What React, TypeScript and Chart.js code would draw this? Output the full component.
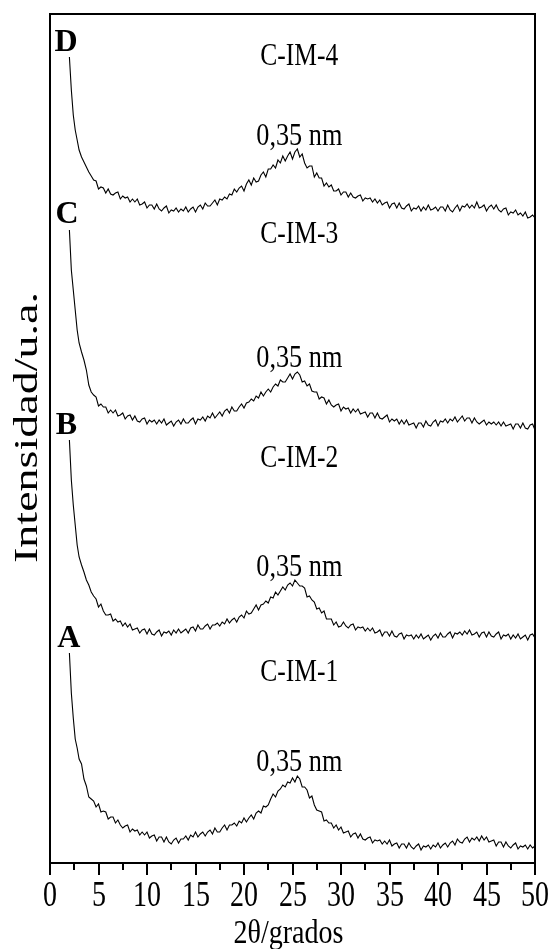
import React, { useEffect, useRef } from "react";
import { Chart, registerables } from "chart.js";

Chart.register(...registerables);

// 2θ positions (degrees)
const X: number[] = [
  2.0, 2.2, 2.4, 2.6, 2.8, 3.0, 3.25, 3.5, 3.75, 4.0, 4.25,
  4.5, 4.75,
  5.0, 5.25, 5.5, 5.75, 6.0, 6.25, 6.5, 6.75, 7.0, 7.25, 7.5, 7.75,
  8.0, 8.25, 8.5, 8.75, 9.0, 9.25, 9.5, 9.75, 10.0, 10.25, 10.5, 10.75,
  11.0, 11.25, 11.5, 11.75, 12.0, 12.25, 12.5, 12.75, 13.0, 13.25, 13.5, 13.75,
  14.0, 14.25, 14.5, 14.75, 15.0, 15.25, 15.5, 15.75, 16.0, 16.25, 16.5, 16.75,
  17.0, 17.25, 17.5, 17.75, 18.0, 18.25, 18.5, 18.75, 19.0, 19.25, 19.5, 19.75,
  20.0, 20.25, 20.5, 20.75, 21.0, 21.25, 21.5, 21.75, 22.0, 22.25, 22.5, 22.75,
  23.0, 23.25, 23.5, 23.75, 24.0, 24.25, 24.5, 24.75, 25.0, 25.25, 25.5, 25.75,
  26.0, 26.25, 26.5, 26.75, 27.0, 27.25, 27.5, 27.75, 28.0, 28.25, 28.5, 28.75,
  29.0, 29.25, 29.5, 29.75, 30.0, 30.25, 30.5, 30.75, 31.0, 31.25, 31.5, 31.75,
  32.0, 32.25, 32.5, 32.75, 33.0, 33.25, 33.5, 33.75, 34.0, 34.25, 34.5, 34.75,
  35.0, 35.25, 35.5, 35.75, 36.0, 36.25, 36.5, 36.75, 37.0, 37.25, 37.5, 37.75,
  38.0, 38.25, 38.5, 38.75, 39.0, 39.25, 39.5, 39.75, 40.0, 40.25, 40.5, 40.75,
  41.0, 41.25, 41.5, 41.75, 42.0, 42.25, 42.5, 42.75, 43.0, 43.25, 43.5, 43.75,
  44.0, 44.25, 44.5, 44.75, 45.0, 45.25, 45.5, 45.75, 46.0, 46.25, 46.5, 46.75,
  47.0, 47.25, 47.5, 47.75, 48.0, 48.25, 48.5, 48.75, 49.0, 49.25, 49.5, 49.75,
  50.0,
];

// Intensities (arbitrary units, curves stacked as in the figure)
const C_IM_1: number[] = [
  210, 170, 145, 124, 115, 104, 99, 84, 77, 66, 64,
  62, 56,
  59, 51, 52, 51, 44, 46, 46, 40, 43, 38, 35, 37,
  38, 31, 34, 32, 33, 28, 31, 28, 31, 25, 27, 28,
  22, 26, 26, 21, 26, 21, 19, 23, 25, 20, 24, 24,
  27, 23, 28, 26, 31, 26, 29, 31, 27, 31, 33, 29,
  35, 31, 31, 35, 38, 33, 38, 38, 40, 37, 42, 40,
  45, 41, 45, 48, 44, 50, 52, 50, 57, 56, 58, 64,
  69, 66, 72, 74, 78, 76, 81, 80, 85, 81, 87, 84,
  76, 76, 73, 65, 67, 58, 53, 52, 51, 42, 43, 40,
  40, 35, 38, 33, 36, 30, 31, 32, 26, 29, 30, 25,
  29, 24, 23, 25, 26, 20, 23, 22, 23, 19, 22, 19,
  23, 17, 19, 20, 15, 19, 19, 15, 20, 16, 14, 17,
  19, 13, 17, 16, 18, 14, 18, 16, 20, 15, 18, 20,
  16, 20, 22, 18, 24, 21, 20, 24, 26, 21, 25, 23,
  26, 22, 27, 23, 26, 21, 22, 23, 17, 21, 21, 16,
  21, 17, 15, 18, 20, 14, 17, 16, 18, 14, 18, 15,
  17,
];

const C_IM_2: number[] = [
  423, 383, 358, 338, 318, 306, 298, 291, 283, 278, 271,
  267, 264,
  256, 259, 252, 248, 248, 249, 242, 244, 241, 242, 237, 240,
  236, 239, 233, 234, 235, 230, 233, 234, 229, 234, 229, 228,
  231, 233, 227, 231, 230, 232, 228, 233, 230, 234, 230, 232,
  234, 230, 235, 236, 232, 238, 234, 234, 237, 239, 234, 238,
  238, 240, 237, 241, 239, 244, 240, 243, 245, 241, 246, 248,
  245, 252, 249, 250, 254, 258, 253, 258, 259, 262, 260, 266,
  265, 271, 268, 272, 276, 273, 278, 280, 277, 283, 280, 277,
  277, 275, 266, 267, 263, 261, 254, 255, 250, 252, 244, 244,
  244, 238, 241, 236, 237, 241, 237, 235, 238, 239, 233, 236,
  235, 236, 232, 235, 232, 235, 230, 231, 233, 227, 231, 231,
  227, 232, 227, 226, 229, 230, 224, 228, 227, 228, 224, 228,
  225, 229, 224, 226, 228, 223, 227, 229, 225, 230, 226, 226,
  229, 231, 225, 230, 229, 231, 228, 232, 229, 233, 228, 229,
  231, 226, 230, 231, 226, 231, 227, 226, 229, 231, 224, 228,
  227, 229, 224, 228, 225, 229, 224, 226, 228, 223, 228, 229,
  225,
];

const C_IM_3: number[] = [
  633, 593, 573, 553, 533, 520, 511, 503, 493, 478, 471,
  468, 466,
  457, 459, 456, 456, 450, 453, 450, 453, 447, 448, 450, 444,
  447, 448, 443, 447, 442, 441, 444, 445, 439, 443, 441, 443,
  439, 443, 440, 444, 438, 440, 442, 437, 441, 443, 439, 444,
  440, 440, 443, 445, 439, 444, 443, 446, 442, 447, 445, 450,
  445, 448, 451, 447, 452, 454, 450, 456, 452, 452, 456, 459,
  455, 460, 461, 464, 462, 467, 465, 471, 467, 471, 474, 471,
  476, 479, 477, 483, 481, 481, 485, 489, 484, 489, 491, 488,
  481, 482, 477, 479, 472, 471, 471, 464, 466, 465, 459, 463,
  458, 456, 458, 459, 452, 456, 454, 455, 450, 454, 451, 454,
  449, 450, 451, 446, 450, 450, 445, 450, 445, 444, 446, 448,
  441, 444, 442, 444, 439, 443, 439, 443, 438, 439, 440, 435,
  440, 440, 436, 442, 438, 437, 441, 443, 437, 442, 441, 444,
  440, 444, 442, 446, 441, 444, 447, 442, 445, 445, 440, 445,
  441, 439, 441, 443, 438, 441, 439, 441, 438, 441, 437, 441,
  437, 438, 439, 434, 439, 439, 435, 440, 435, 434, 438, 439,
  433,
];

const C_IM_4: number[] = [
  806, 773, 748, 733, 723, 713, 706, 701, 696, 691, 687,
  683, 682,
  674, 676, 675, 670, 674, 669, 668, 670, 671, 664, 667, 665,
  666, 661, 664, 661, 664, 658, 659, 661, 655, 658, 658, 654,
  659, 654, 652, 655, 657, 650, 653, 652, 655, 651, 654, 652,
  656, 651, 654, 656, 651, 656, 658, 654, 660, 657, 657, 660,
  663, 658, 664, 663, 666, 664, 669, 668, 674, 671, 675, 677,
  672, 679, 683, 678, 685, 681, 682, 688, 691, 686, 694, 694,
  698, 695, 703, 700, 707, 702, 707, 711, 704, 711, 714, 706,
  709, 700, 695, 697, 697, 686, 690, 685, 685, 677, 680, 676,
  678, 672, 672, 674, 668, 671, 671, 666, 670, 666, 665, 667,
  668, 662, 665, 664, 665, 661, 664, 660, 663, 658, 660, 661,
  655, 659, 660, 655, 660, 655, 654, 657, 659, 652, 655, 654,
  657, 652, 656, 653, 658, 653, 654, 656, 652, 656, 656, 652,
  658, 653, 651, 655, 658, 652, 657, 656, 659, 655, 658, 655,
  661, 655, 656, 658, 652, 656, 658, 654, 658, 653, 651, 654,
  655, 648, 651, 650, 653, 648, 650, 647, 651, 645, 646, 648,
  645,
];

const SERIES_NAMES: string[] = ["C-IM-1", "C-IM-2", "C-IM-3", "C-IM-4"];
const SERIES_DATA: number[][] = [C_IM_1, C_IM_2, C_IM_3, C_IM_4];

// Axis ranges and ticks
const X_MIN = 0;
const X_MAX = 50;
const Y_MAX = 849;
const X_MAJOR_TICKS: number[] = [0, 5, 10, 15, 20, 25, 30, 35, 40, 45, 50];
const X_MINOR_TICKS: number[] = [2.5, 7.5, 12.5, 17.5, 22.5, 27.5, 32.5, 37.5, 42.5, 47.5];

// Annotations (data coordinates)
const NAME_X = 25.7;
const NAME_Y: number[] = [182, 396, 620, 798];
const PEAK_TEXT = "0,35 nm";
const PEAK_Y: number[] = [92, 287, 496, 718];
const LETTERS: string[] = ["A", "B", "C", "D"];
const LETTER_X: number[] = [1.95, 1.7, 1.75, 1.65];
const LETTER_Y: number[] = [216, 429, 640, 812];

const X_TITLE = "2θ/grados";
const Y_TITLE = "Intensidad/u.a.";

const SERIF = '"Liberation Serif", "Times New Roman", serif';

function drawFitText(
  ctx: CanvasRenderingContext2D,
  text: string,
  cx: number,
  baseline: number,
  font: string,
  targetWidth: number
) {
  ctx.save();
  ctx.font = font;
  ctx.textAlign = "center";
  ctx.textBaseline = "alphabetic";
  const w = ctx.measureText(text).width || 1;
  ctx.translate(cx, baseline);
  ctx.scale(targetWidth / w, 1);
  ctx.fillText(text, 0, 0);
  ctx.restore();
}

const decorPlugin = {
  id: "decor",
  afterDraw(chart: any) {
    const ctx: CanvasRenderingContext2D = chart.ctx;
    const { left, right, top, bottom } = chart.chartArea;
    const xs = chart.scales.x;
    const ys = chart.scales.y;
    ctx.save();
    ctx.strokeStyle = "#000";
    ctx.fillStyle = "#000";
    ctx.lineWidth = 2;
    ctx.strokeRect(left, top, right - left, bottom - top);

    // x ticks and labels
    X_MAJOR_TICKS.forEach((v) => {
      const px = Math.round(xs.getPixelForValue(v));
      ctx.beginPath();
      ctx.moveTo(px, bottom);
      ctx.lineTo(px, bottom + 12);
      ctx.stroke();
      const s = String(v);
      drawFitText(ctx, s, px, bottom + 43, `35px ${SERIF}`, 14 * s.length);
    });
    X_MINOR_TICKS.forEach((v) => {
      const px = Math.round(xs.getPixelForValue(v));
      ctx.beginPath();
      ctx.moveTo(px, bottom);
      ctx.lineTo(px, bottom + 7);
      ctx.stroke();
    });

    // axis titles
    drawFitText(ctx, X_TITLE, (left + right) / 2 - 4, bottom + 80, `33px ${SERIF}`, 110);
    ctx.save();
    ctx.font = `34px ${SERIF}`;
    const w = ctx.measureText(Y_TITLE).width;
    ctx.translate(37, (top + bottom) / 2 - 11);
    ctx.rotate(-Math.PI / 2);
    ctx.scale(271 / w, 1);
    ctx.textAlign = "center";
    ctx.textBaseline = "alphabetic";
    ctx.fillText(Y_TITLE, 0, 0);
    ctx.restore();

    // annotations
    SERIES_NAMES.forEach((name, i) => {
      const px = xs.getPixelForValue(NAME_X);
      drawFitText(ctx, name, px, ys.getPixelForValue(NAME_Y[i]), `31px ${SERIF}`, 78);
      drawFitText(ctx, PEAK_TEXT, px, ys.getPixelForValue(PEAK_Y[i]), `31px ${SERIF}`, 86);
      ctx.save();
      ctx.font = `bold 32px ${SERIF}`;
      ctx.textAlign = "center";
      ctx.textBaseline = "alphabetic";
      ctx.fillText(LETTERS[i], xs.getPixelForValue(LETTER_X[i]), ys.getPixelForValue(LETTER_Y[i]));
      ctx.restore();
    });
    ctx.restore();
  },
};

export default function App() {
  const canvasRef = useRef<HTMLCanvasElement | null>(null);

  useEffect(() => {
    const canvas = canvasRef.current;
    if (!canvas) return;
    const datasets = SERIES_DATA.map((vals, i) => ({
      label: SERIES_NAMES[i],
      data: X.map((x, j) => ({ x, y: vals[j] })),
      borderColor: "#000",
      borderWidth: 1.1,
      pointRadius: 0,
      fill: false,
      tension: 0,
    }));
    const chart = new Chart(canvas, {
      type: "line",
      data: { datasets },
      plugins: [decorPlugin],
      options: {
        responsive: false,
        animation: false,
        layout: { padding: { left: 0, right: 17, top: 14, bottom: 0 } },
        plugins: {
          legend: { display: false },
          tooltip: { enabled: false },
        },
        scales: {
          x: {
            type: "linear",
            min: X_MIN,
            max: X_MAX,
            grid: { display: false },
            border: { display: false },
            ticks: { display: false },
            afterFit: (s: any) => {
              s.height = 86;
            },
          },
          y: {
            type: "linear",
            min: 0,
            max: Y_MAX,
            grid: { display: false },
            border: { display: false },
            ticks: { display: false },
            afterFit: (s: any) => {
              s.width = 50;
            },
          },
        },
      } as any,
    });
    return () => chart.destroy();
  }, []);

  return (
    <div style={{ position: "absolute", left: 0, top: 0, width: 552, height: 949, background: "#fff" }}>
      <canvas ref={canvasRef} width={552} height={949} style={{ display: "block" }} />
    </div>
  );
}
